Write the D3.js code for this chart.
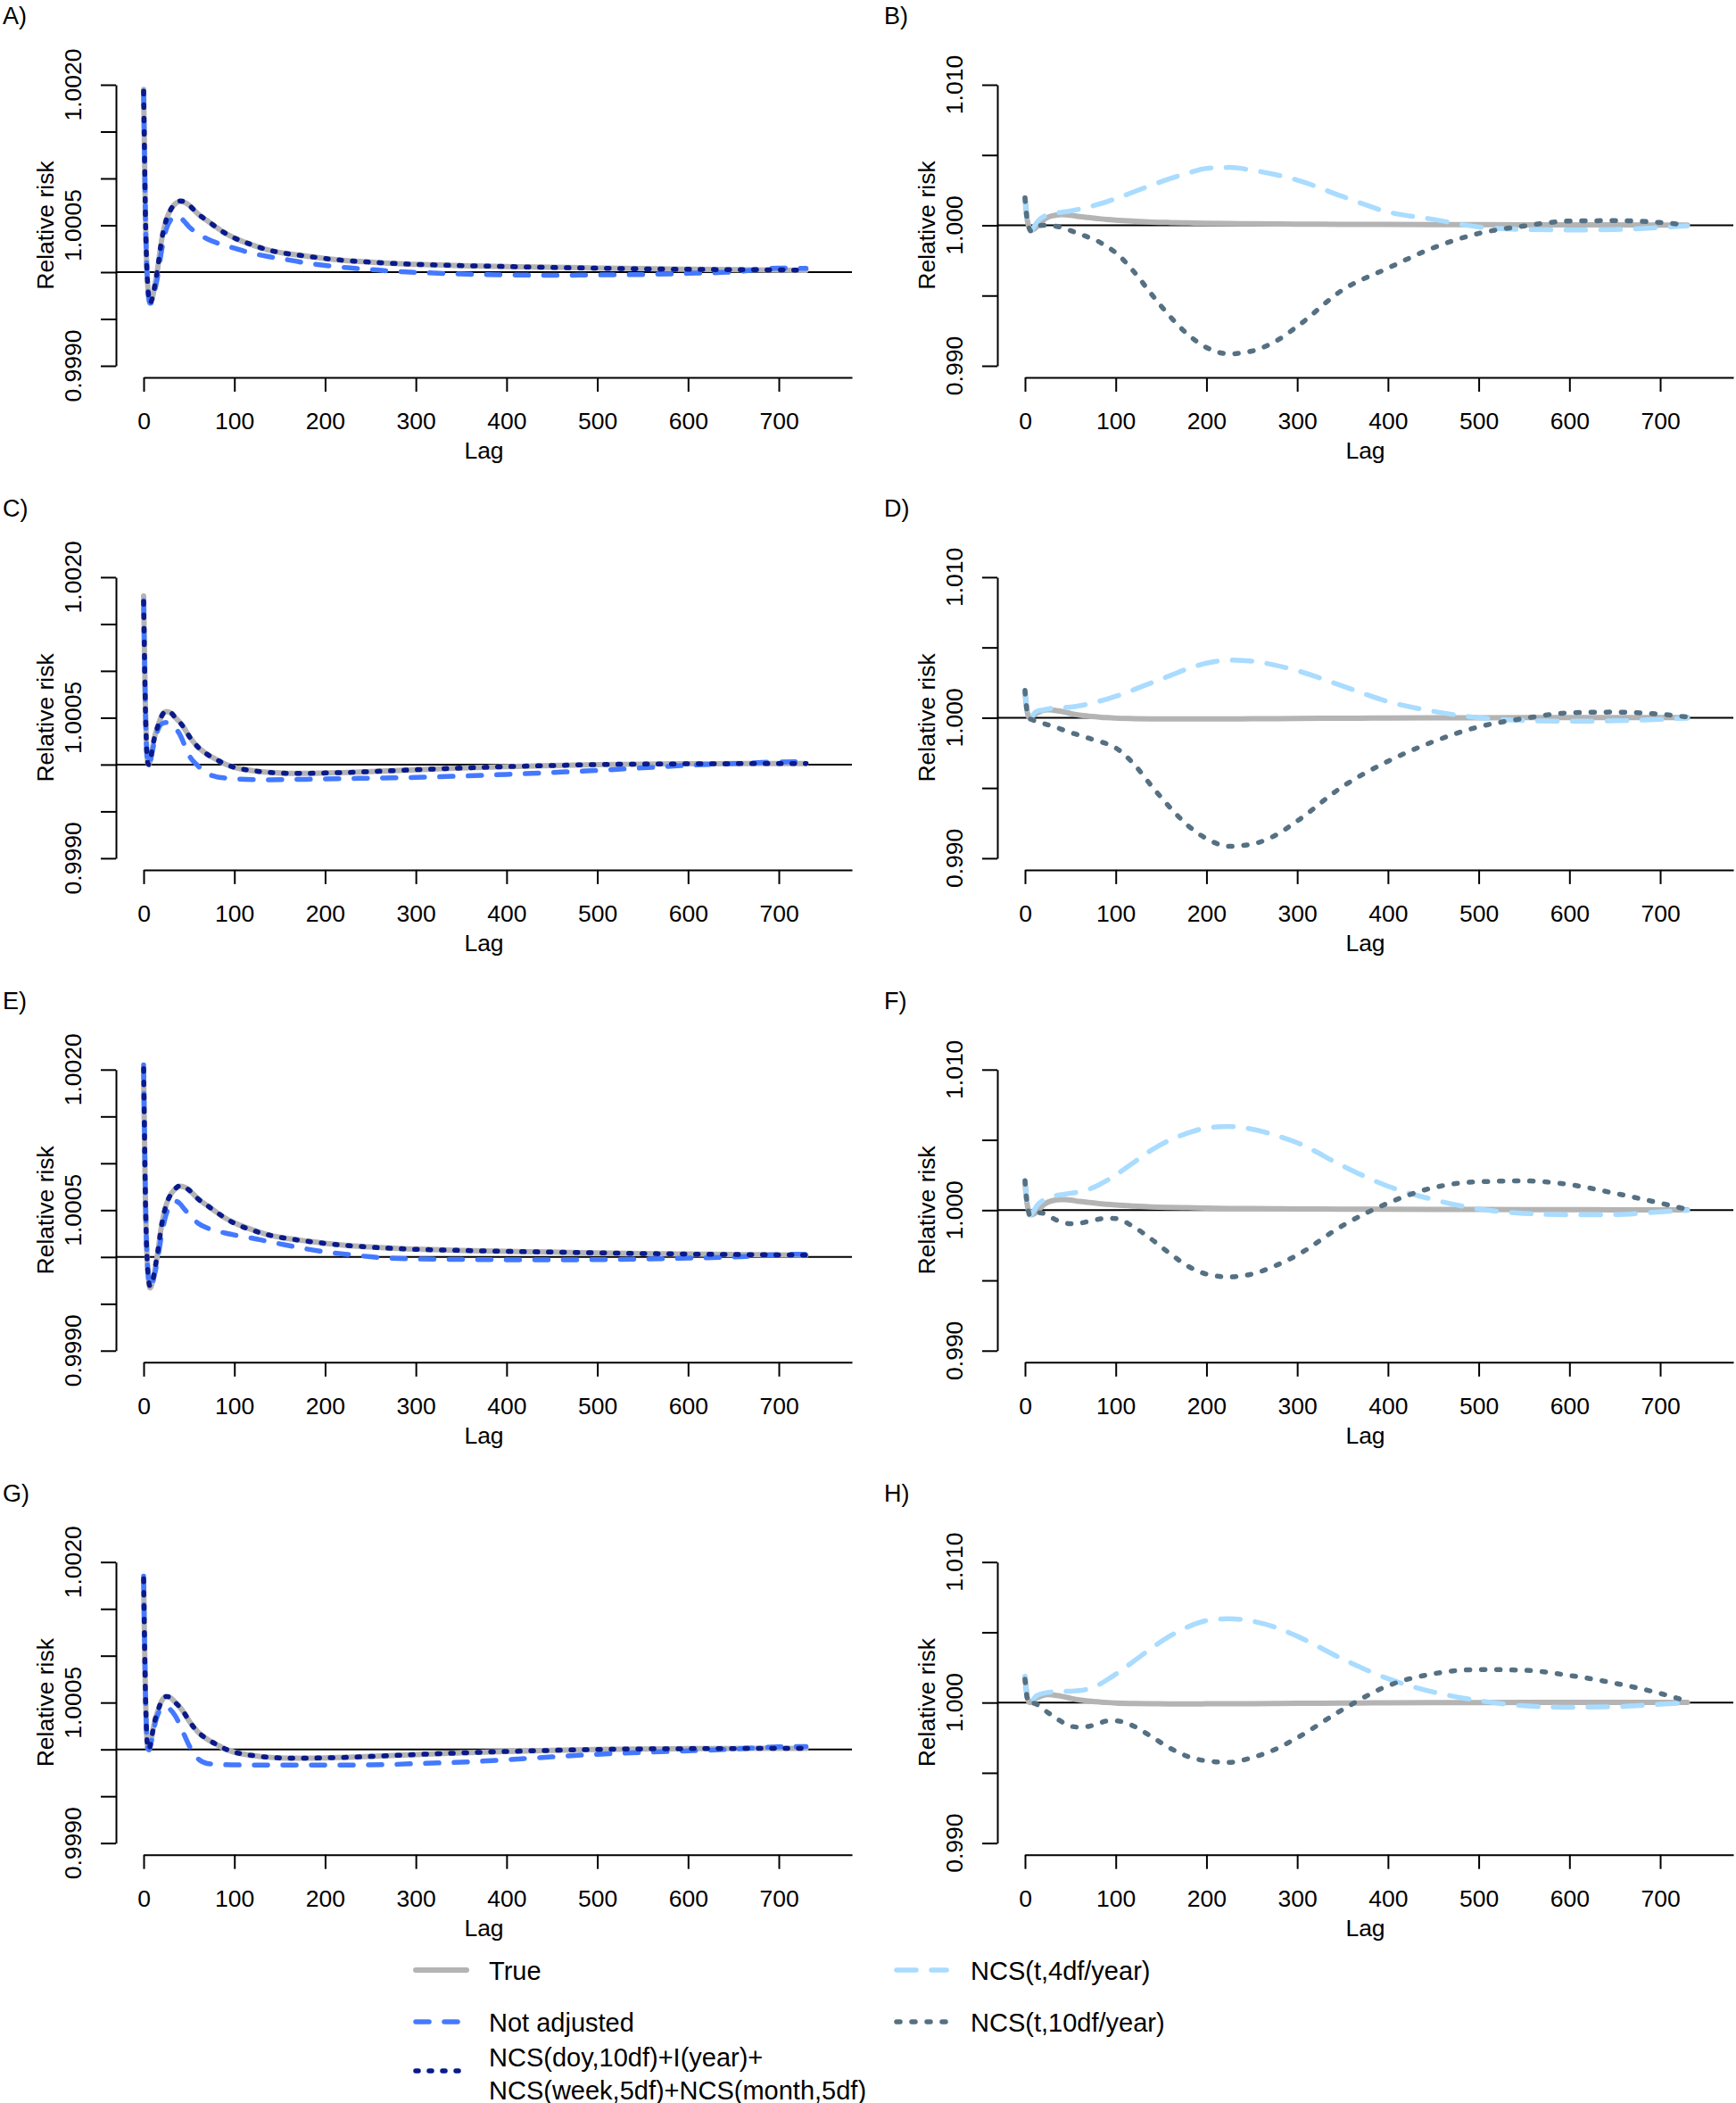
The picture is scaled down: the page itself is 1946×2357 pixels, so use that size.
<!DOCTYPE html>
<html><head><meta charset="utf-8">
<script src="https://cdn.jsdelivr.net/npm/d3@7"></script>
<style>
body{margin:0;background:#fff}
svg{display:block}
text{font-family:"Liberation Sans",Arial,Helvetica,sans-serif;fill:#000}
</style>
</head><body>
<svg id="chart" width="1946" height="2357"></svg>
<script>
// ---------------- DATA ----------------
// Lag grid (days) shared by every curve
const lags = [0,1,2,3,4,5,6,7,8,10,12,15,20,25,30,35,40,45,50,60,70,80,90,100,120,140,160,180,200,225,250,275,300,350,400,450,500,550,600,650,700,730];

// Left panels: relative risk deviations from 1, in units of 1e-4
const trueSlow = [19.5,12.5,6.0,2.0,-0.5,-2.0,-2.9,-3.3,-3.2,-2.6,-1.6,0.1,3.5,5.6,6.7,7.3,7.55,7.45,7.15,6.2,5.5,4.8,4.15,3.65,2.9,2.3,1.95,1.7,1.45,1.22,1.07,0.93,0.83,0.7,0.6,0.52,0.44,0.37,0.31,0.26,0.22,0.2];
const trueFast = [18.0,11.5,6.0,2.5,0.6,0.05,0.0,0.3,0.8,1.9,2.9,3.9,5.2,5.65,5.5,5.0,4.5,3.85,3.05,1.85,1.1,0.55,0.05,-0.3,-0.65,-0.85,-0.93,-0.93,-0.9,-0.84,-0.75,-0.65,-0.55,-0.37,-0.22,-0.1,0.0,0.05,0.08,0.1,0.12,0.12];

const notAdjA = [19.3,12.3,5.8,1.8,-0.7,-2.2,-3.0,-3.3,-3.3,-2.9,-2.1,-0.7,2.4,4.6,5.6,6.0,5.85,5.4,4.85,4.1,3.55,3.15,2.85,2.55,2.0,1.62,1.3,0.97,0.72,0.47,0.28,0.1,-0.02,-0.2,-0.3,-0.33,-0.3,-0.25,-0.13,0.02,0.42,0.4];
const doyA    = [19.3,12.4,6.0,2.0,-0.5,-2.0,-2.9,-3.3,-3.2,-2.6,-1.6,0.1,3.5,5.6,6.7,7.3,7.6,7.5,7.15,6.2,5.5,4.8,4.15,3.65,2.9,2.3,1.95,1.7,1.45,1.22,1.07,0.93,0.83,0.7,0.6,0.5,0.42,0.35,0.3,0.26,0.24,0.2];

const notAdjC = [17.5,11.2,5.8,2.4,0.5,0.0,-0.05,0.2,0.6,1.6,2.5,3.5,4.35,4.5,4.25,3.85,3.2,2.1,1.0,-0.15,-0.95,-1.3,-1.44,-1.52,-1.6,-1.62,-1.6,-1.57,-1.53,-1.49,-1.45,-1.41,-1.37,-1.23,-1.05,-0.85,-0.63,-0.35,-0.08,0.1,0.28,0.3];
const doyC    = [17.4,11.2,5.9,2.5,0.6,0.05,0.0,0.3,0.8,1.9,2.9,3.9,5.2,5.7,5.55,5.0,4.5,3.85,3.05,1.85,1.1,0.55,0.05,-0.3,-0.65,-0.85,-0.93,-0.93,-0.9,-0.84,-0.75,-0.65,-0.55,-0.37,-0.22,-0.1,0.0,0.05,0.08,0.1,0.12,0.12];

const notAdjE = [20.5,13.0,6.3,2.2,-0.3,-1.9,-2.8,-3.1,-3.1,-2.7,-1.9,-0.5,2.5,4.6,5.6,5.95,5.7,5.1,4.55,3.6,3.1,2.78,2.55,2.35,2.0,1.6,1.22,0.85,0.55,0.27,0.02,-0.14,-0.21,-0.26,-0.3,-0.31,-0.28,-0.22,-0.12,0.0,0.25,0.3];
const doyE    = [20.1,12.8,6.1,2.0,-0.5,-2.0,-2.8,-3.1,-3.1,-2.5,-1.5,0.2,3.5,5.6,6.7,7.3,7.6,7.5,7.15,6.2,5.5,4.8,4.15,3.6,2.85,2.3,1.95,1.68,1.45,1.22,1.05,0.92,0.82,0.7,0.6,0.52,0.44,0.37,0.31,0.26,0.22,0.2];

const notAdjG = [18.5,11.8,6.1,2.5,0.5,0.0,-0.05,0.2,0.6,1.6,2.5,3.55,4.4,4.55,4.2,3.56,2.6,1.5,0.45,-1.0,-1.5,-1.6,-1.63,-1.65,-1.67,-1.68,-1.68,-1.68,-1.68,-1.68,-1.65,-1.6,-1.52,-1.36,-1.1,-0.8,-0.52,-0.32,-0.15,0.03,0.27,0.3];
const doyG    = [18.2,11.6,6.0,2.5,0.6,0.05,0.0,0.3,0.8,1.9,2.9,3.9,5.2,5.65,5.5,5.0,4.5,3.85,3.05,1.85,1.1,0.55,0.05,-0.3,-0.65,-0.85,-0.93,-0.93,-0.9,-0.84,-0.75,-0.65,-0.55,-0.37,-0.22,-0.1,0.0,0.05,0.08,0.1,0.12,0.12];

// Right panels: deviations from 1, in units of 1e-3
const ncs4B  = [1.95,1.2,0.55,0.15,-0.1,-0.3,-0.4,-0.38,-0.3,-0.1,0.1,0.35,0.6,0.75,0.83,0.88,0.92,0.97,1.02,1.15,1.3,1.48,1.68,1.9,2.38,2.87,3.33,3.72,4.05,4.12,3.92,3.62,3.22,2.05,0.95,0.42,-0.12,-0.3,-0.33,-0.3,-0.15,-0.03];
const ncs10B = [1.95,1.2,0.55,0.15,-0.1,-0.3,-0.4,-0.38,-0.32,-0.2,-0.1,-0.05,0.0,0.0,-0.02,-0.08,-0.15,-0.25,-0.37,-0.62,-0.85,-1.12,-1.5,-1.95,-3.3,-4.95,-6.5,-7.8,-8.7,-9.15,-8.95,-8.3,-7.2,-4.6,-3.05,-1.6,-0.58,-0.05,0.3,0.33,0.2,0.02];
const ncs4D  = [1.94,1.2,0.55,0.15,-0.05,-0.1,-0.05,0.05,0.15,0.3,0.42,0.5,0.55,0.62,0.68,0.7,0.72,0.74,0.76,0.85,0.98,1.14,1.32,1.52,2.0,2.5,3.0,3.5,3.88,4.1,4.02,3.75,3.35,2.25,1.15,0.45,0.0,-0.2,-0.25,-0.22,-0.12,-0.02];
const ncs10D = [1.94,1.2,0.55,0.15,-0.05,-0.1,-0.1,-0.12,-0.15,-0.2,-0.25,-0.3,-0.4,-0.5,-0.6,-0.7,-0.82,-0.95,-1.05,-1.25,-1.45,-1.65,-1.85,-2.15,-3.3,-4.9,-6.4,-7.7,-8.6,-9.15,-9.0,-8.4,-7.35,-4.9,-3.1,-1.7,-0.65,-0.05,0.35,0.4,0.25,0.05];
const ncs4F  = [2.1,1.3,0.6,0.15,-0.15,-0.35,-0.35,-0.3,-0.2,0.0,0.2,0.45,0.7,0.88,0.98,1.05,1.1,1.15,1.2,1.3,1.48,1.75,2.1,2.5,3.4,4.3,5.0,5.5,5.85,5.95,5.77,5.35,4.8,3.15,1.7,0.75,0.08,-0.23,-0.33,-0.32,-0.12,-0.02];
const ncs10F = [2.1,1.3,0.6,0.15,-0.15,-0.35,-0.35,-0.3,-0.25,-0.18,-0.17,-0.18,-0.22,-0.35,-0.55,-0.72,-0.85,-0.93,-0.96,-0.93,-0.8,-0.66,-0.57,-0.6,-1.2,-2.1,-3.1,-4.0,-4.55,-4.75,-4.55,-3.98,-3.2,-1.1,0.5,1.6,2.02,2.08,1.82,1.2,0.5,0.05];
const ncs4H  = [1.88,1.15,0.55,0.15,-0.05,-0.1,-0.05,0.05,0.15,0.3,0.45,0.55,0.65,0.72,0.76,0.78,0.79,0.8,0.81,0.85,0.98,1.22,1.6,2.02,2.95,3.9,4.75,5.4,5.83,5.97,5.8,5.38,4.72,3.1,1.7,0.75,0.14,-0.23,-0.33,-0.3,-0.12,-0.02];
const ncs10H = [1.67,1.0,0.45,0.1,-0.05,-0.1,-0.1,-0.08,-0.05,-0.05,-0.1,-0.2,-0.45,-0.7,-0.92,-1.15,-1.35,-1.55,-1.68,-1.75,-1.7,-1.5,-1.32,-1.3,-1.68,-2.45,-3.25,-3.85,-4.15,-4.25,-3.92,-3.35,-2.5,-0.5,1.2,2.05,2.35,2.3,1.93,1.38,0.65,0.1];

// Axis ticks and labels
const xTicks = [0,100,200,300,400,500,600,700];
const leftYTicks = [0.9990,0.9995,1.0000,1.0005,1.0010,1.0015,1.0020];
const leftYLabels = ["0.9990","","","1.0005","","","1.0020"];
const rightYTicks = [0.990,0.995,1.000,1.005,1.010];
const rightYLabels = ["0.990","","1.000","","1.010"];
const panelLabels = ["A)","B)","C)","D)","E)","F)","G)","H)"];
const legendLeft = [["True"],["Not adjusted"],["NCS(doy,10df)+I(year)+","NCS(week,5df)+NCS(month,5df)"]];
const legendRight = [["NCS(t,4df/year)"],["NCS(t,10df/year)"]];

// ---------------- STYLE / LAYOUT ----------------
const styles = {
  tru:    {color:"#B4B4B4", width:6,   dash:null},
  notAdj: {color:"#4479FF", width:5.5, dash:"15 17"},
  doy:    {color:"#0A1A8C", width:5.5, dash:"3 12"},
  ncs4:   {color:"#A9DCFF", width:5.5, dash:"22 17"},
  ncs10:  {color:"#557082", width:5.5, dash:"4 13"}
};
const ROW = 551.9, COL = 988;
const AXF = 26.5, LEGF = 29;
const LAG_AXIS_MAX = 780.6;

const svg = d3.select("#chart");
svg.append("rect").attr("width",1946).attr("height",2357).attr("fill","#fff");

const L = 1e-4, R = 1e-3;
const panels = [
  {row:0,col:0,ylim:[0.999,1.002],ticks:leftYTicks,labs:leftYLabels,series:[[trueSlow,L,"tru"],[notAdjA,L,"notAdj"],[doyA,L,"doy"]]},
  {row:0,col:1,ylim:[0.990,1.010],ticks:rightYTicks,labs:rightYLabels,series:[[trueSlow,L,"tru"],[ncs4B,R,"ncs4"],[ncs10B,R,"ncs10"]]},
  {row:1,col:0,ylim:[0.999,1.002],ticks:leftYTicks,labs:leftYLabels,series:[[trueFast,L,"tru"],[notAdjC,L,"notAdj"],[doyC,L,"doy"]]},
  {row:1,col:1,ylim:[0.990,1.010],ticks:rightYTicks,labs:rightYLabels,series:[[trueFast,L,"tru"],[ncs4D,R,"ncs4"],[ncs10D,R,"ncs10"]]},
  {row:2,col:0,ylim:[0.999,1.002],ticks:leftYTicks,labs:leftYLabels,series:[[trueSlow,L,"tru"],[notAdjE,L,"notAdj"],[doyE,L,"doy"]]},
  {row:2,col:1,ylim:[0.990,1.010],ticks:rightYTicks,labs:rightYLabels,series:[[trueSlow,L,"tru"],[ncs4F,R,"ncs4"],[ncs10F,R,"ncs10"]]},
  {row:3,col:0,ylim:[0.999,1.002],ticks:leftYTicks,labs:leftYLabels,series:[[trueFast,L,"tru"],[notAdjG,L,"notAdj"],[doyG,L,"doy"]]},
  {row:3,col:1,ylim:[0.990,1.010],ticks:rightYTicks,labs:rightYLabels,series:[[trueFast,L,"tru"],[ncs4H,R,"ncs4"],[ncs10H,R,"ncs10"]]}
];

function styled(sel, st){
  sel.attr("fill","none").attr("stroke",st.color).attr("stroke-width",st.width)
     .attr("stroke-linecap","round").attr("stroke-linejoin","round");
  if (st.dash) sel.attr("stroke-dasharray",st.dash);
  return sel;
}

panels.forEach((p,pi)=>{
  const ox = p.col*COL, oy = p.row*ROW;
  const g = svg.append("g");
  const x = d3.scaleLinear().domain([0,LAG_AXIS_MAX]).range([161+ox,955+ox]);
  const y = d3.scaleLinear().domain(p.ylim).range([410+oy,95+oy]);

  // reference line at RR = 1
  g.append("line").attr("x1",130+ox).attr("x2",955+ox).attr("y1",y(1)).attr("y2",y(1))
    .attr("stroke","#000").attr("stroke-width",2);

  // curves
  const line = d3.line().x(d=>x(d[0])).y(d=>y(d[1])).curve(d3.curveMonotoneX);
  p.series.forEach(([vals,unit,sk])=>{
    const pts = lags.map((l,i)=>[l, 1 + vals[i]*unit]);
    styled(g.append("path").attr("d",line(pts)), styles[sk]);
  });

  // y axis
  const ya = g.append("g").attr("transform",`translate(${130+ox},0)`)
    .call(d3.axisLeft(y).tickValues(p.ticks).tickSize(17).tickSizeOuter(0).tickFormat(""));
  ya.selectAll("path,line").attr("stroke","#000").attr("stroke-width",2);
  p.ticks.forEach((t,i)=>{
    if(!p.labs[i]) return;
    g.append("text").attr("transform",`translate(${91+ox},${y(t)}) rotate(-90)`)
      .attr("text-anchor","middle").attr("font-size",AXF).text(p.labs[i]);
  });

  // x axis
  const xa = g.append("g").attr("transform",`translate(0,${423+oy})`)
    .call(d3.axisBottom(x).tickValues(xTicks).tickSize(16).tickSizeOuter(0).tickFormat(d=>String(d)));
  xa.selectAll("path,line").attr("stroke","#000").attr("stroke-width",2);
  xa.attr("font-size",AXF).attr("font-family",null);
  xa.selectAll("text").attr("y",58).attr("dy","0").attr("fill","#000");

  // axis titles
  g.append("text").attr("x",542.5+ox).attr("y",514+oy).attr("text-anchor","middle")
    .attr("font-size",AXF).text("Lag");
  g.append("text").attr("transform",`translate(${59.5+ox},${252.5+oy}) rotate(-90)`)
    .attr("text-anchor","middle").attr("font-size",AXF).text("Relative risk");
  // panel letter
  g.append("text").attr("x",3+ox).attr("y",27+oy).attr("font-size",27).text(panelLabels[pi]);
});

// ---------------- LEGEND ----------------
const lg = svg.append("g");
const leftKeys = ["tru","notAdj","doy"];
const leftY = [2208, 2266, 2321];
legendLeft.forEach((lines,i)=>{
  styled(lg.append("line").attr("x1",466).attr("x2",523).attr("y1",leftY[i]).attr("y2",leftY[i]), styles[leftKeys[i]]);
  if(lines.length===1){
    lg.append("text").attr("x",548).attr("y",leftY[i]+10.5).attr("font-size",LEGF).text(lines[0]);
  } else {
    lg.append("text").attr("x",548).attr("y",2315.5).attr("font-size",LEGF).text(lines[0]);
    lg.append("text").attr("x",548).attr("y",2352.5).attr("font-size",LEGF).text(lines[1]);
  }
});
const rightKeys = ["ncs4","ncs10"];
const rightY = [2208, 2266];
legendRight.forEach((lines,i)=>{
  styled(lg.append("line").attr("x1",1005).attr("x2",1061).attr("y1",rightY[i]).attr("y2",rightY[i]), styles[rightKeys[i]]);
  lg.append("text").attr("x",1088).attr("y",rightY[i]+10.5).attr("font-size",LEGF).text(lines[0]);
});
</script>
</body></html>
